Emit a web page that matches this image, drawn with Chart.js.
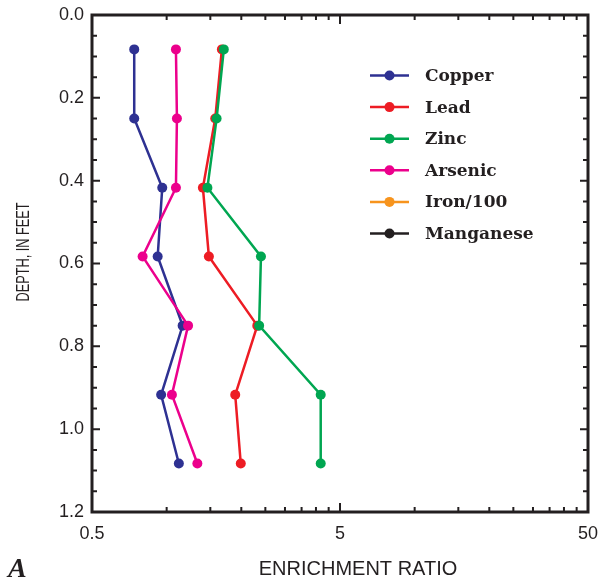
<!DOCTYPE html>
<html>
<head>
<meta charset="utf-8">
<script src="https://cdn.jsdelivr.net/npm/chart.js@4.4.1/dist/chart.umd.min.js"></script>
<style>
  html, body { margin: 0; padding: 0; background: #fff; }
  #wrap { width: 603px; height: 586px; }
</style>
</head>
<body>
<div id="wrap"><canvas id="enrichmentChart" width="603" height="586"></canvas></div>
<script>
// depth of each sample (feet)
const depths = [0.083, 0.25, 0.417, 0.583, 0.75, 0.917, 1.083];

// enrichment ratios
const copper     = [0.74, 0.74, 0.96, 0.92, 1.16, 0.95, 1.12];
const lead       = [1.67, 1.57, 1.40, 1.48, 2.32, 1.89, 1.99];
const zinc       = [1.70, 1.59, 1.46, 2.40, 2.36, 4.18, 4.18];
const arsenic    = [1.09, 1.10, 1.09, 0.80, 1.22, 1.05, 1.33];
const ironPer100 = [];
const manganese  = [];

// ticks
const xTickLabels = [0.5, 5, 50];
const xMinorTicks = [1, 1.5, 2, 2.5, 3, 3.5, 4, 4.5, 10, 15, 20, 25, 30, 35, 40, 45];
const yTickLabels = [0, 0.2, 0.4, 0.6, 0.8, 1.0, 1.2];
const yMinorTicks = [0.05, 0.1, 0.15, 0.25, 0.3, 0.35, 0.45, 0.5, 0.55, 0.65, 0.7, 0.75,
                     0.85, 0.9, 0.95, 1.05, 1.1, 1.15];

const INK = '#231f20';

function toPoints(values) {
    return values.map((v, i) => ({ x: v, y: depths[i] }));
}

function serie(label, values, color, order) {
    return {
        label: label,
        data: toPoints(values),
        showLine: true,
        borderColor: color,
        backgroundColor: color,
        borderWidth: 2.5,
        pointRadius: 5,
        pointHoverRadius: 5,
        pointBorderWidth: 0,
        order: order
    };
}

// caixa, marcas internas e textos
const framePlugin = {
    id: 'frame',
    beforeDatasetsDraw(chart) {
        const ctx = chart.ctx;
        const a = chart.chartArea;
        const xs = chart.scales.x;
        const ys = chart.scales.y;
        ctx.save();
        ctx.strokeStyle = INK;
        ctx.lineWidth = 2;
        ctx.beginPath();
        const tick = (x1, y1, x2, y2) => { ctx.moveTo(x1, y1); ctx.lineTo(x2, y2); };
        xMinorTicks.forEach(v => {
            const px = xs.getPixelForValue(v);
            tick(px, a.bottom, px, a.bottom - 5);
            tick(px, a.top, px, a.top + 5);
        });
        xTickLabels.forEach(v => {
            const px = xs.getPixelForValue(v);
            tick(px, a.bottom, px, a.bottom - 9);
            tick(px, a.top, px, a.top + 9);
        });
        yMinorTicks.forEach(v => {
            const py = ys.getPixelForValue(v);
            tick(a.left, py, a.left + 5, py);
            tick(a.right, py, a.right - 5, py);
        });
        yTickLabels.forEach(v => {
            const py = ys.getPixelForValue(v);
            tick(a.left, py, a.left + 8, py);
            tick(a.right, py, a.right - 8, py);
        });
        ctx.stroke();
        ctx.lineWidth = 3;
        ctx.strokeRect(a.left, a.top, a.right - a.left, a.bottom - a.top);
        ctx.restore();
    },
    afterDraw(chart) {
        const ctx = chart.ctx;
        ctx.save();
        ctx.fillStyle = INK;

        // titulo do eixo x
        ctx.font = '20px "Liberation Sans", Arial, sans-serif';
        ctx.textAlign = 'center';
        ctx.textBaseline = 'alphabetic';
        ctx.fillText('ENRICHMENT RATIO', 358, 575);

        // titulo do eixo y (condensado)
        ctx.save();
        ctx.translate(29, 252);
        ctx.rotate(-Math.PI / 2);
        ctx.scale(0.67, 1);
        ctx.font = '19px "Liberation Sans", Arial, sans-serif';
        ctx.fillText('DEPTH, IN FEET', 0, 0);
        ctx.restore();

        // letra do painel
        ctx.font = 'italic bold 28px "Liberation Serif", serif';
        ctx.textAlign = 'left';
        ctx.fillText('A', 8, 577);

        // legenda
        ctx.font = 'bold 17px "DejaVu Serif", serif';
        ctx.textBaseline = 'middle';
        chart.data.datasets.forEach((ds, i) => {
            const y = 75.5 + i * 31.6;
            ctx.strokeStyle = ds.borderColor;
            ctx.lineWidth = 2.5;
            ctx.beginPath();
            ctx.moveTo(370, y);
            ctx.lineTo(409, y);
            ctx.stroke();
            ctx.fillStyle = ds.backgroundColor;
            ctx.beginPath();
            ctx.arc(389.5, y, 5, 0, Math.PI * 2);
            ctx.fill();
            ctx.fillStyle = INK;
            ctx.fillText(ds.label, 425, y + 1);
        });
        ctx.restore();
    }
};

function renderEnrichmentChart() {
    const ctx = document.getElementById('enrichmentChart');
    new Chart(ctx, {
        type: 'scatter',
        data: {
            datasets: [
                serie('Copper', copper, '#2e3192', 4),
                serie('Lead', lead, '#ed1c24', 3),
                serie('Zinc', zinc, '#00a651', 1),
                serie('Arsenic', arsenic, '#ec008c', 2),
                serie('Iron/100', ironPer100, '#f7941d', 5),
                serie('Manganese', manganese, '#231f20', 6)
            ]
        },
        options: {
            responsive: false,
            animation: false,
            devicePixelRatio: 1,
            layout: { padding: { left: 0, top: 15, right: 15, bottom: 0 } },
            plugins: {
                legend: { display: false },
                tooltip: { enabled: false }
            },
            scales: {
                x: {
                    type: 'logarithmic',
                    min: 0.5,
                    max: 50,
                    grid: { display: false, drawTicks: false },
                    border: { display: false },
                    afterBuildTicks: (scale) => {
                        scale.ticks = xTickLabels.map(v => ({ value: v }));
                    },
                    afterFit: (scale) => {
                        scale.height = 74;
                        scale.paddingLeft = 0;
                        scale.paddingRight = 0;
                    },
                    ticks: {
                        autoSkip: false,
                        maxRotation: 0,
                        padding: 11,
                        color: INK,
                        font: { family: '"Liberation Sans", Arial, sans-serif', size: 18 },
                        callback: (value) => String(value)
                    }
                },
                y: {
                    type: 'linear',
                    reverse: true,
                    min: 0,
                    max: 1.2,
                    grid: { display: false, drawTicks: false },
                    border: { display: false },
                    afterBuildTicks: (scale) => {
                        scale.ticks = yTickLabels.map(v => ({ value: v }));
                    },
                    afterFit: (scale) => {
                        scale.width = 92;
                        scale.paddingTop = 0;
                        scale.paddingBottom = 0;
                    },
                    ticks: {
                        padding: 8,
                        color: INK,
                        font: { family: '"Liberation Sans", Arial, sans-serif', size: 18 },
                        callback: (value) => Number(value).toFixed(1)
                    }
                }
            }
        },
        plugins: [framePlugin]
    });
}

renderEnrichmentChart();
</script>
</body>
</html>
